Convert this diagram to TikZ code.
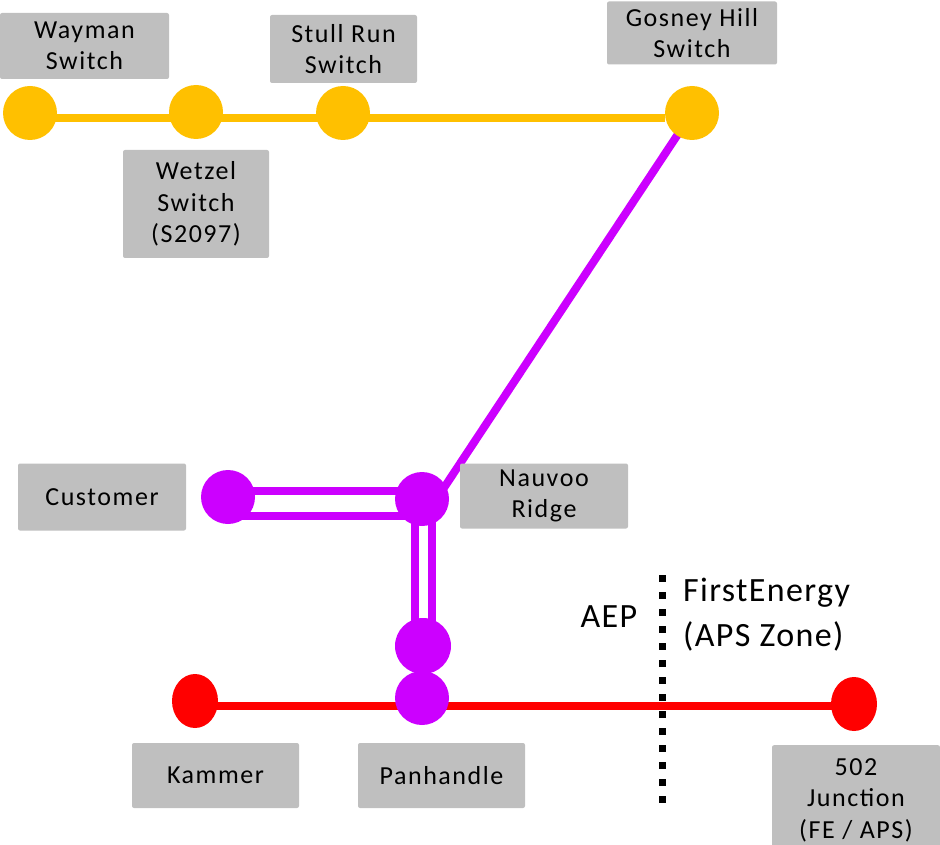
\documentclass[tikz,border=0pt]{standalone}
\usepackage{fontspec}
\setmainfont{Carlito}[LetterSpace=6]
\newfontfamily\bigf{Carlito}[LetterSpace=4]
\usetikzlibrary{backgrounds,shapes.geometric}
\definecolor{yel}{HTML}{FFC000}
\definecolor{pur}{HTML}{CC00FF}
\definecolor{rd}{HTML}{FF0000}
\definecolor{gbox}{HTML}{BFBFBF}
\tikzset{
  lbl/.style={fill=gbox, rounded corners=2pt, inner sep=0pt, align=center,
    font=\fontsize{26}{31.5}\selectfont},
  dotn/.style={circle, inner sep=0pt, minimum size=54pt, fill=#1},
  rednode/.style={ellipse, inner sep=0pt, minimum width=46pt, minimum height=54pt, fill=rd},
  wire/.style={line width=8pt, #1},
  bigtxt/.style={font=\bigf\fontsize{34}{45}\selectfont, inner sep=0pt, align=left}
}
\begin{document}
\begin{tikzpicture}[x=1pt,y=-1pt]
\useasboundingbox (0,0) rectangle (940,845);
% labels
\node[lbl, minimum width=169pt, minimum height=66pt] (lway) at (84.5,46) {Wayman\\Switch};
\node[lbl, minimum width=147pt, minimum height=68pt] (lstull) at (343.5,49) {Stull Run\\Switch};
\node[lbl, minimum width=146pt, minimum height=108pt] (lwet) at (196,204) {Wetzel\\Switch\\(S2097)};
\node[lbl, minimum width=170pt, minimum height=63pt] (lgos) at (692,33) {Gosney Hill\\Switch};
\node[lbl, minimum width=168pt, minimum height=67pt] (lcust) at (102,497) {Customer};
\node[lbl, minimum width=168pt, minimum height=65pt] (lnau) at (544,496) {Nauvoo\\Ridge};
\node[lbl, minimum width=167pt, minimum height=65pt] (lkam) at (215.5,775.5) {Kammer};
\node[lbl, minimum width=167pt, minimum height=65pt] (lpan) at (441.5,775.5) {Panhandle};
\node[lbl, minimum width=168pt, minimum height=110pt, anchor=north] (ljn) at (856,745) {502\\Junction\\(FE / APS)};
% circles
\node[dotn=yel] (way) at (30,113) {};
\node[dotn=yel] (wet) at (196,112) {};
\node[dotn=yel] (stull) at (343,113) {};
\node[dotn=yel] (gos) at (692,113) {};
\node[dotn=pur] (cust) at (228,497) {};
\node[dotn=pur] (nau) at (422,499) {};
\node[dotn=pur, minimum size=56pt] (mid) at (423,646) {};
\node[dotn=pur] (pan) at (422,698) {};
\node[rednode] (kam) at (195,701) {};
\node[rednode] (jn) at (854,704) {};
% wires behind
\begin{scope}[on background layer]
\draw[wire=yel] ([yshift=-5pt]way.center) -- ([yshift=-5pt]gos.center -| gos.west);
\draw[wire=pur] (gos.center) -- ([yshift=-22pt]nau.center);
\draw[wire=pur] ([yshift=-19pt]cust.center) -- ([yshift=-19pt]cust.center -| nau.center);
\draw[wire=pur] ([yshift=6pt]cust.center) -- ([yshift=6pt]cust.center -| nau.center);
\draw[wire=pur] ([xshift=-7pt]nau.center) -- ([xshift=-7pt]nau.center |- mid.center);
\draw[wire=pur] ([xshift=10pt]nau.center) -- ([xshift=10pt]nau.center |- mid.center);
\draw[wire=rd] ([yshift=-5pt]kam.center) -- ([yshift=-2pt]jn.center);
\end{scope}
% boundary
\coordinate (bt) at (662,575);
\coordinate (bb) at (662,803);
\draw[line width=7pt, dash pattern=on 7pt off 10pt] (bt) -- (bb);
\node[bigtxt, anchor=center] (aep) at (609,617) {AEP};
\node[bigtxt, anchor=west] (fe) at (683,615) {FirstEnergy\\(APS Zone)};
\end{tikzpicture}
\end{document}
